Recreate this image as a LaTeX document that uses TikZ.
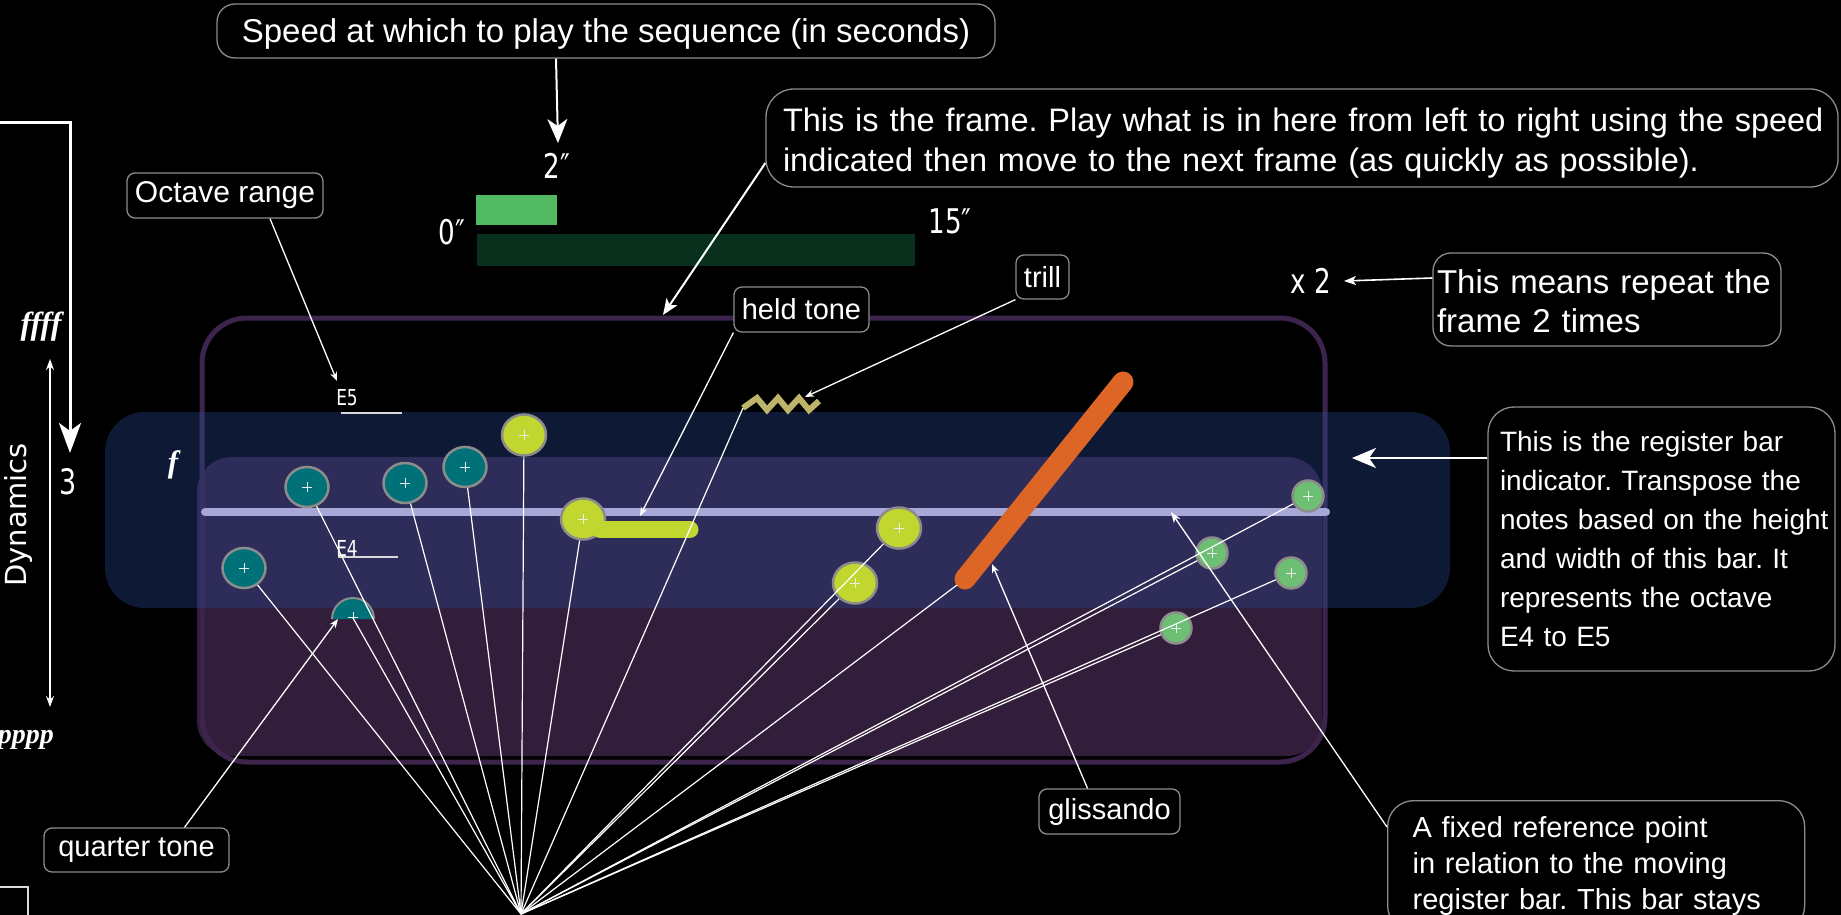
\documentclass[tikz,border=0pt]{standalone}
\usepackage{fontspec}
\setmainfont{Liberation Sans}
\newfontfamily\condfont[FakeStretch=0.77]{DejaVu Sans}
\newfontfamily\plainsans{DejaVu Sans}
\newfontfamily\dynfont[Ligatures=NoCommon]{Liberation Serif}
\usetikzlibrary{arrows.meta,shapes.geometric}
\newcommand\myfs[2]{\fontsize{#1pt}{#2pt}\selectfont}
\definecolor{tealc}{RGB}{0,113,121}
\definecolor{ygreen}{RGB}{193,215,47}
\definecolor{lgreen}{RGB}{109,191,116}
\definecolor{orng}{RGB}{221,101,37}
\definecolor{trillc}{RGB}{189,180,106}
\definecolor{barc}{RGB}{167,167,216}
\definecolor{bandc}{RGB}{40,73,146}
\definecolor{framefill}{RGB}{50,29,58}
\definecolor{framestroke}{RGB}{60,36,76}
\definecolor{lgbar}{RGB}{82,185,99}
\definecolor{dgbar}{RGB}{8,48,28}
\definecolor{boxborder}{RGB}{140,140,140}
\definecolor{notestroke}{RGB}{140,140,140}
\tikzset{
  lbl/.style={draw=boxborder, line width=1.3pt, fill=black, text=white, rounded corners=8pt,
    inner sep=0pt, font=\myfs{29}{35}},
  plus/.style={path picture={\draw[white!85!gray, line width=0.9pt]
      ([xshift=-5pt]path picture bounding box.center) -- ([xshift=5pt]path picture bounding box.center)
      ([yshift=-5pt]path picture bounding box.center) -- ([yshift=5pt]path picture bounding box.center);}},
  note/.style={ellipse, draw=notestroke, line width=2.5pt, inner sep=0pt, plus},
  tnote/.style={note, fill=tealc, minimum width=43pt, minimum height=40pt},
  ynote/.style={note, fill=ygreen, minimum width=44pt, minimum height=41pt},
  gnote/.style={note, fill=lgreen, minimum width=31pt, minimum height=31pt},
  fan/.style={white, line width=1.2pt},
  conn/.style={white, line width=1.3pt, -{Stealth[length=9pt,width=7pt]}},
  bigarrow/.style={white, line width=2.5pt, -{Stealth[length=24pt,width=20pt,inset=7pt]}},
  cond/.style={text=white, inner sep=0pt, font=\condfont\myfs{34}{40}},
  dyn/.style={text=white, inner sep=0pt, font=\dynfont\bfseries\itshape\myfs{28}{30}},
}
\begin{document}
\frenchspacing
\begin{tikzpicture}[x=1pt,y=-1pt]
\fill[black] (0,0) rectangle (1841,915);
\useasboundingbox (0,0) rectangle (1841,915);

% frame fill and outline
\fill[framefill, rounded corners=35pt] (197,457) rectangle (1322,756);
\node[draw=framestroke, line width=5pt, rounded corners=45pt, minimum width=1123pt,
      minimum height=444pt, inner sep=0pt] (frame) at (763.5,540) {};
% register band
\fill[bandc, fill opacity=0.37, rounded corners=40pt] (105,412) rectangle (1450,608);
% register bar
\draw[barc, line width=8pt, line cap=round] (205,512) -- (1326,512);

% octave markers
\node[text=white, inner sep=0pt, font=\condfont\myfs{22}{24}] (e5) at (347,398) {E5};
\node[text=white, inner sep=0pt, font=\condfont\myfs{22}{24}] (e4) at (347,548) {E4};
\draw[white!70!gray, line width=1.5pt] (341,413) -- (402,413);
\draw[white!70!gray, line width=1.5pt] (338,557) -- (398,557);

% time bars
\fill[lgbar] (476,195) rectangle (557,225);
\fill[dgbar] (477,234) rectangle (915,266);
\node[cond] (two) at (557,166) {2″};
\node[cond] (zero) at (452,232) {0″};
\node[cond] (fifteen) at (950,221) {15″};

% coordinates
\coordinate (F) at (521,914);
\coordinate (qtc) at (353,618);
\coordinate (trillstart) at (743,408);
\coordinate (glisend) at (957,585);

% glissando, held tone, trill
\draw[orng, line width=21pt, line cap=round] (1123,382) -- (965,579);
\draw[trillc, line width=6pt, line join=miter, miter limit=10]
  (743,408) -- (757,398) -- (767,410) -- (778,398) -- (788,410) -- (799,398) -- (809,410) -- (819,401);

% notes
\node[tnote] (T1) at (307,487) {};
\node[tnote] (T2) at (405,483) {};
\node[tnote] (T3) at (465,467) {};
\node[tnote] (T4) at (244,568) {};
\node[ynote] (Y1) at (524,435) {};
\node[ynote] (Y2) at (583,519) {};
\node[ynote] (Y3) at (899,528) {};
\node[ynote] (Y4) at (855,583) {};
\node[gnote] (G1) at (1308,496) {};
\node[gnote] (G2) at (1212,553) {};
\node[gnote] (G3) at (1291,573) {};
\node[gnote] (G4) at (1176,628) {};
\draw[ygreen, line width=17pt, line cap=round] (600,529.5) -- (690,529.5);
% quarter tone
\fill[tealc] (332,619) arc[start angle=180, end angle=360, radius=21] -- cycle;
\draw[notestroke, line width=2pt] (332,619) arc[start angle=180, end angle=360, radius=21];
\draw[white!85!gray, line width=0.9pt] (348,617) -- (358,617) (353,612) -- (353,619);

% fan of lines
\foreach \n in {T1,T2,T3,T4,Y1,Y2,Y3,Y4,G1,G2,G3,G4,qtc,trillstart,glisend}
  \draw[fan] (F) -- (\n);

% left side: dynamics
\node[dyn, font=\dynfont\bfseries\itshape\myfs{32}{34}] (ffff) at (41,327) {ffff};
\node[dyn] (pppp) at (26,740) {pppp};
\node[dyn, font=\dynfont\bfseries\itshape\myfs{31}{34}] (fdyn) at (173,465) {f};
\coordinate (dyntop) at (50,359);
\coordinate (dynbot) at (50,707);
\draw[white, line width=2pt, {Stealth[length=11pt,width=8pt]}-{Stealth[length=11pt,width=8pt]}] (dyntop) -- (dynbot);
\node[rotate=90, text=white, inner sep=0pt, font=\plainsans\myfs{29}{30}] (dynlbl) at (18,515) {Dynamics};
\node[text=white, inner sep=0pt, font=\condfont\myfs{35}{38}] (three) at (68,482) {3};
\coordinate (brk0) at (-3,123);
\coordinate (brktip) at (70,453);
\draw[white, line width=3pt, -{Stealth[length=30pt,width=22pt,inset=8pt]}] (brk0) -| (brktip);
\draw[white!70!gray, line width=1.5pt] (-2,887) -- (28,887) -- (28,918);

% labels
\node[lbl, rounded corners=18pt, minimum width=778pt, minimum height=54pt, font=\myfs{33}{40},
  text height=30pt, text depth=6pt] (speed) at (606,31)
  {Speed at which to play the sequence (in seconds)};
\node[lbl, rounded corners=28pt, minimum width=1072pt, minimum height=98pt, text width=1038pt, align=left,
  font=\myfs{32.5}{40}] (frametext) at (1302,138)
  {\mbox{\rule{0pt}{34pt}This is the frame. Play what is in here from left to right using the speed}\\
   \mbox{indicated then move to the next frame (as quickly as possible).}};
\node[lbl, minimum width=196pt, minimum height=45pt, font=\myfs{30}{35}] (octave) at (225,195.5) {Octave range};
\node[lbl, minimum width=135pt, minimum height=45pt] (heldlbl) at (801.5,309.5) {held tone};
\node[lbl, minimum width=53pt, minimum height=44pt] (trilllbl) at (1042.5,277) {trill};
\node[lbl, minimum width=141pt, minimum height=45pt] (glisslbl) at (1109.5,811.5) {glissando};
\node[lbl, minimum width=185pt, minimum height=44pt] (qtlbl) at (136.5,850) {quarter tone};
\node[lbl, rounded corners=18pt, minimum width=348pt, minimum height=93pt, text width=340pt, align=left,
  font=\myfs{33}{39}] (repeatlbl) at (1607,299.5)
  {\mbox{\rule{0pt}{27pt}This means repeat the}\\\mbox{frame 2 times}};
\node[lbl, rounded corners=26pt, minimum width=347pt, minimum height=264pt, text width=323pt, align=left,
  font=\myfs{28}{39}] (reglbl) at (1661.5,539)
  {\mbox{This is the register bar}\\\mbox{indicator. Transpose the}\\\mbox{notes based on the height}\\
   \mbox{and width of this bar. It}\\\mbox{represents the octave}\\\mbox{E4 to E5}};
\node[lbl, rounded corners=26pt, anchor=north west, minimum width=417pt, text width=367pt, align=left,
  inner ysep=16pt, font=\myfs{29}{36}] (fixedlbl) at (1387,800)
  {\mbox{A fixed reference point}\\\mbox{in relation to the moving}\\\mbox{register bar. This bar stays}};
\node[cond] (x2) at (1311,281) {x 2};

% connectors
\coordinate (twotip) at (558,143);
\coordinate (frametip) at (663,315);
\coordinate (e5tip) at (337,381);
\coordinate (heldtip) at (640,516);
\coordinate (trilltip) at (805,397);
\coordinate (glisside) at (992,564);
\coordinate (qttip) at (338,619);
\coordinate (fixtip) at (1171,512);
\coordinate (regtip) at (1352,458);
\coordinate (x2tip) at (1344,281);
\draw[bigarrow, line width=2pt] ([xshift=-50pt]speed.south) -- (twotip);
\draw[white, line width=2pt, -{Stealth[length=16pt,width=13pt,inset=4pt]}] ([yshift=-25pt]frametext.west) -- (frametip);
\draw[conn] ([xshift=45pt]octave.south) -- (e5tip);
\draw[conn] (heldlbl.south west) -- (heldtip);
\draw[conn] (trilllbl.south west) -- (trilltip);
\draw[conn] ([xshift=-22pt]glisslbl.north) -- (glisside);
\draw[conn] ([xshift=48pt]qtlbl.north) -- (qttip);
\draw[conn, -{Stealth[length=11pt,width=8pt,fill=white!80!gray]}] ([yshift=-27pt]fixedlbl.north west) -- (fixtip);
\draw[bigarrow] ([yshift=81pt]reglbl.west) -- (regtip);
\draw[white, line width=1.6pt, -{Stealth[length=12pt,width=9pt,inset=3pt]}] ([yshift=21.5pt]repeatlbl.west) -- (x2tip);
\end{tikzpicture}
\end{document}
